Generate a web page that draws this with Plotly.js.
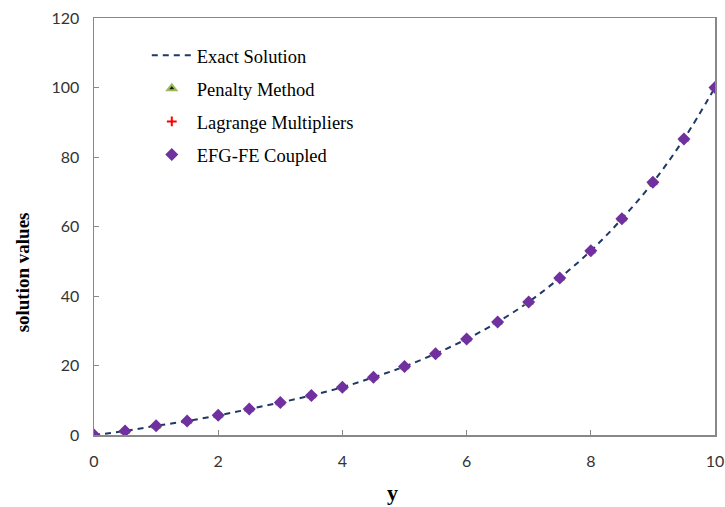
<!DOCTYPE html>
<html>
<head>
<meta charset="utf-8">
<script src="https://cdn.plot.ly/plotly-3.0.1.min.js"></script>
<style>html,body{margin:0;padding:0;background:#fff;}#chart{width:725px;height:507px;}</style>
</head>
<body>
<div id="chart"></div>
<script>
const yPoints = [0, 0.5, 1, 1.5, 2, 2.5, 3, 3.5, 4, 4.5, 5, 5.5, 6, 6.5, 7, 7.5, 8, 8.5, 9, 9.5, 10];
const exactSolution = [0, 1.15, 2.65, 4.0, 5.65, 7.45, 9.35, 11.4, 13.75, 16.6, 19.7, 23.4, 27.6, 32.5, 38.3, 45.2, 53.0, 62.2, 72.7, 85.2, 100];
const penaltyMethod = [0, 1.15, 2.65, 4.0, 5.65, 7.45, 9.35, 11.4, 13.75, 16.6, 19.7, 23.4, 27.6, 32.5, 38.3, 45.2, 53.0, 62.2, 72.7, 85.2, 100];
const lagrangeMultipliers = [0, 1.15, 2.65, 4.0, 5.65, 7.45, 9.35, 11.4, 13.75, 16.6, 19.7, 23.4, 27.6, 32.5, 38.3, 45.2, 53.0, 62.2, 72.7, 85.2, 100];
const efgFeCoupled = [0, 1.15, 2.65, 4.0, 5.65, 7.45, 9.35, 11.4, 13.75, 16.6, 19.7, 23.4, 27.6, 32.5, 38.3, 45.2, 53.0, 62.2, 72.7, 85.2, 100];
const xTicks = [0, 2, 4, 6, 8, 10];
const yTicks = [0, 20, 40, 60, 80, 100, 120];
const xTitle = 'y';
const yTitle = 'solution values';

const traces = [
  {x: yPoints, y: exactSolution, name: 'Exact Solution', mode: 'lines', legendgroup: 'a',
   line: {color: '#1F3864', width: 2, dash: '6px,5px', shape: 'spline'}},
  {x: yPoints, y: penaltyMethod, name: 'Penalty Method', mode: 'markers', legendgroup: 'b',
   marker: {symbol: 'triangle-up', size: 8, color: '#1a1a1a', line: {color: '#9BBB59', width: 2}}},
  {x: yPoints, y: lagrangeMultipliers, name: 'Lagrange Multipliers', mode: 'markers', legendgroup: 'c',
   marker: {symbol: 'cross-thin', size: 7, line: {color: '#FF0000', width: 2}}},
  {x: yPoints, y: efgFeCoupled, name: 'EFG-FE Coupled', mode: 'markers', legendgroup: 'd',
   marker: {symbol: 'diamond', size: 10, color: '#7030A0', line: {width: 0}}}
];

const titleFont = {family: 'Liberation Serif, Times New Roman, serif', color: '#000', weight: 'bold'};

const layout = {
  width: 725, height: 507,
  margin: {l: 94, r: 10, t: 18, b: 72},
  paper_bgcolor: '#fff', plot_bgcolor: '#fff',
  showlegend: true,
  legend: {x: 0.085, y: 0.955, xanchor: 'left', yanchor: 'top',
    font: {family: 'Liberation Serif, Times New Roman, serif', size: 18.5, color: '#000'},
    tracegroupgap: 6, itemwidth: 40, bgcolor: 'rgba(0,0,0,0)'},
  xaxis: {range: [0, 10], tickvals: xTicks, ticks: 'inside', ticklen: 5, tickcolor: '#888',
    showline: true, linecolor: '#888', linewidth: 1.5, mirror: true, showgrid: false, zeroline: false,
    tickfont: {family: 'Lato, Carlito, sans-serif', size: 16, color: '#333'}, ticklabelstandoff: 11},
  yaxis: {range: [0, 120], tickvals: yTicks, ticks: 'inside', ticklen: 5, tickcolor: '#888',
    showline: true, linecolor: '#888', linewidth: 1.5, mirror: true, showgrid: false, zeroline: false,
    tickfont: {family: 'Lato, Carlito, sans-serif', size: 16, color: '#333'}, ticklabelstandoff: 10},
  annotations: [
    {text: xTitle, xref: 'paper', yref: 'paper', x: 0.48, y: 0, yshift: -57, xanchor: 'center', yanchor: 'middle',
     showarrow: false, font: Object.assign({size: 22}, titleFont)},
    {text: yTitle, xref: 'paper', yref: 'paper', x: 0, xshift: -72, y: 0.39, xanchor: 'center', yanchor: 'middle',
     textangle: -90, showarrow: false, font: Object.assign({size: 19}, titleFont)}
  ]
};

Plotly.newPlot('chart', traces, layout, {displayModeBar: false, staticPlot: true});
</script>
</body>
</html>
